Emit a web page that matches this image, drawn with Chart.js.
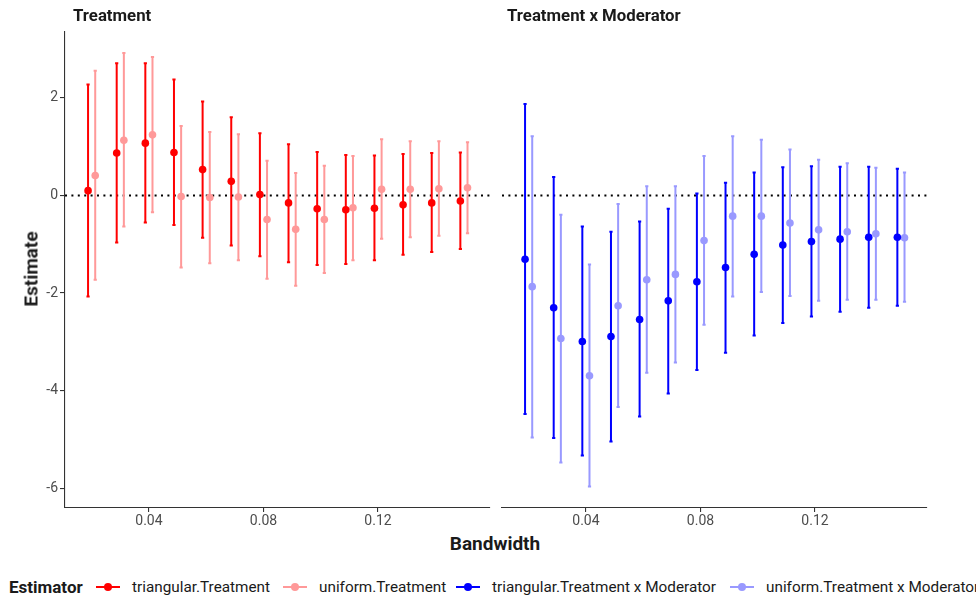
<!DOCTYPE html>
<html>
<head>
<meta charset="utf-8">
<script src="https://cdn.jsdelivr.net/npm/chart.js@4.4.1/dist/chart.umd.min.js"></script>
<style>
  html, body { margin: 0; padding: 0; background: #fff; }
  body { width: 976px; height: 600px; position: relative; overflow: hidden;
         font-family: Roboto, 'Liberation Sans', sans-serif; }
  canvas { position: absolute; top: 0; }
  .ttl { position: absolute; font-weight: bold; color: #1a1a1a; white-space: nowrap; line-height: 1; }
  .leg { position: absolute; top: 577px; height: 20px; line-height: 20px; font-size: 15.3px; color: #1a1a1a; white-space: nowrap; }
  .sw { position: absolute; top: 9px; width: 24px; height: 2px; }
  .sw i { position: absolute; left: 8px; top: -3.5px; width: 8px; height: 8px; border-radius: 50%; }
</style>
</head>
<body>
<canvas id="c1" width="495" height="530" style="left:0px"></canvas>
<canvas id="c2" width="481" height="530" style="left:495px"></canvas>
<div id="overlay"></div>
<script>
// ---- data ----
const bandwidths = [0.02, 0.03, 0.04, 0.05, 0.06, 0.07, 0.08, 0.09, 0.10, 0.11, 0.12, 0.13, 0.14, 0.15];
const panelTitles = ['Treatment', 'Treatment x Moderator'];
const seriesNames = ['triangular.Treatment', 'uniform.Treatment', 'triangular.Treatment x Moderator', 'uniform.Treatment x Moderator'];
const xTickValues = [0.04, 0.08, 0.12];
const yTickValues = [2, 0, -2, -4, -6];

const triTreatEst = [0.09, 0.86, 1.06, 0.87, 0.52, 0.28, 0.01, -0.16, -0.28, -0.30, -0.27, -0.20, -0.16, -0.12];
const triTreatLo  = [-2.07, -0.97, -0.56, -0.61, -0.87, -1.03, -1.25, -1.37, -1.43, -1.41, -1.33, -1.22, -1.16, -1.10];
const triTreatHi  = [2.26, 2.69, 2.69, 2.36, 1.91, 1.59, 1.26, 1.04, 0.88, 0.82, 0.81, 0.84, 0.86, 0.87];
const uniTreatEst = [0.40, 1.12, 1.23, -0.03, -0.05, -0.04, -0.50, -0.70, -0.50, -0.26, 0.12, 0.12, 0.13, 0.15];
const uniTreatLo  = [-1.73, -0.64, -0.35, -1.48, -1.39, -1.33, -1.71, -1.85, -1.59, -1.33, -0.89, -0.86, -0.83, -0.78];
const uniTreatHi  = [2.54, 2.90, 2.82, 1.41, 1.29, 1.24, 0.70, 0.45, 0.60, 0.80, 1.14, 1.10, 1.10, 1.08];
const triModEst = [-1.31, -2.30, -2.99, -2.89, -2.54, -2.16, -1.77, -1.48, -1.21, -1.02, -0.95, -0.90, -0.86, -0.86];
const triModLo  = [-4.47, -4.96, -5.32, -5.03, -4.52, -4.05, -3.57, -3.22, -2.87, -2.61, -2.48, -2.38, -2.30, -2.26];
const triModHi  = [1.86, 0.37, -0.64, -0.75, -0.54, -0.28, 0.03, 0.25, 0.46, 0.57, 0.59, 0.58, 0.58, 0.54];
const uniModEst = [-1.87, -2.93, -3.69, -2.26, -1.73, -1.62, -0.93, -0.43, -0.43, -0.57, -0.71, -0.75, -0.79, -0.87];
const uniModLo  = [-4.95, -5.46, -5.95, -4.33, -3.63, -3.42, -2.65, -2.07, -1.98, -2.06, -2.16, -2.14, -2.14, -2.18];
const uniModHi  = [1.20, -0.40, -1.42, -0.18, 0.18, 0.18, 0.80, 1.20, 1.13, 0.93, 0.72, 0.65, 0.56, 0.46];

const colors = ['#FF0000', '#FF9999', '#0000FF', '#9999FF'];
const dodge = 0.00125;
const X_MIN = 0.0107, X_MAX = 0.1591, Y_MIN = -6.39, Y_MAX = 3.33;
const FONT = "Roboto, 'Liberation Sans', sans-serif";

// ---- helpers ----
function makeDataset(label, est, lo, hi, color, offset) {
  return {
    label: label,
    data: bandwidths.map((b, i) => ({ x: b + offset, y: est[i] })),
    errLo: lo, errHi: hi,
    backgroundColor: color, borderColor: color,
    pointRadius: 3.8, pointHoverRadius: 3.8, pointBorderWidth: 0,
    showLine: false
  };
}

const errorBarPlugin = {
  id: 'errorBars',
  beforeDatasetsDraw(chart) {
    const ctx = chart.ctx, xs = chart.scales.x, ys = chart.scales.y, a = chart.chartArea;
    ctx.save();
    // zero reference line
    ctx.beginPath();
    ctx.setLineDash([2, 4.4]);
    ctx.lineWidth = 1.8;
    ctx.strokeStyle = '#000';
    const y0 = Math.round(ys.getPixelForValue(0)) + 0.5;
    ctx.moveTo(a.left, y0); ctx.lineTo(a.right, y0);
    ctx.stroke();
    ctx.setLineDash([]);
    chart.data.datasets.forEach((ds) => {
      ctx.strokeStyle = ds.borderColor;
      ctx.lineWidth = 2;
      ds.data.forEach((p, i) => {
        const x = xs.getPixelForValue(p.x);
        const yl = ys.getPixelForValue(ds.errLo[i]);
        const yh = ys.getPixelForValue(ds.errHi[i]);
        ctx.beginPath();
        ctx.moveTo(x, yl); ctx.lineTo(x, yh);
        ctx.moveTo(x - 1.6, yl); ctx.lineTo(x + 1.6, yl);
        ctx.moveTo(x - 1.6, yh); ctx.lineTo(x + 1.6, yh);
        ctx.stroke();
      });
    });
    ctx.restore();
  }
};

function axisOpts(showY) {
  return {
    x: {
      type: 'linear', min: X_MIN, max: X_MAX,
      afterBuildTicks: s => { s.ticks = xTickValues.map(v => ({ value: v })); },
      afterFit: s => { s.height = 22; },
      border: { display: true, color: '#333', width: 1.1 },
      grid: { display: true, drawOnChartArea: false, drawTicks: true, tickLength: 4, color: '#333', lineWidth: 1.1 },
      ticks: { color: '#4D4D4D', font: { family: FONT, size: 14 }, padding: 1, maxRotation: 0,
               callback: v => v.toFixed(2) }
    },
    y: {
      type: 'linear', min: Y_MIN, max: Y_MAX, display: showY,
      afterBuildTicks: s => { s.ticks = yTickValues.map(v => ({ value: v })); },
      afterFit: s => { s.width = showY ? 65 : 0; },
      border: { display: true, color: '#333', width: 1.1 },
      grid: { display: true, drawOnChartArea: false, drawTicks: true, tickLength: 5, color: '#333', lineWidth: 1.1 },
      ticks: { color: '#4D4D4D', font: { family: FONT, size: 14 }, padding: 2,
               callback: v => String(v) }
    }
  };
}

function makeChart(id, datasets, showY, padding) {
  return new Chart(document.getElementById(id), {
    type: 'scatter',
    data: { datasets: datasets },
    options: {
      responsive: false, animation: false, devicePixelRatio: 1,
      layout: { padding: padding },
      plugins: { legend: { display: false }, tooltip: { enabled: false } },
      scales: axisOpts(showY)
    },
    plugins: [errorBarPlugin]
  });
}

makeChart('c1', [
  makeDataset(seriesNames[0], triTreatEst, triTreatLo, triTreatHi, colors[0], -dodge),
  makeDataset(seriesNames[1], uniTreatEst, uniTreatLo, uniTreatHi, colors[1], dodge)
], true, { left: 0, top: 32, right: 5, bottom: 0 });

makeChart('c2', [
  makeDataset(seriesNames[2], triModEst, triModLo, triModHi, colors[2], -dodge),
  makeDataset(seriesNames[3], uniModEst, uniModLo, uniModHi, colors[3], dodge)
], false, { left: 7, top: 32, right: 49, bottom: 0 });

// ---- text overlay ----
const ov = document.getElementById('overlay');
function addDiv(cls, html, style) {
  const d = document.createElement('div');
  d.className = cls; d.innerHTML = html; d.setAttribute('style', style);
  ov.appendChild(d); return d;
}
addDiv('ttl', panelTitles[0], 'left:73px; top:7px; font-size:16.8px;');
addDiv('ttl', panelTitles[1], 'left:507px; top:7px; font-size:16.8px;');
addDiv('ttl', 'Bandwidth', 'left:495px; top:534px; font-size:19px; transform:translateX(-50%);');
addDiv('ttl', 'Estimate', 'left:31px; top:269px; font-size:19px; transform:translate(-50%,-50%) rotate(-90deg);');
addDiv('leg', '<b style="font-size:17px">Estimator</b>', 'left:9px;');
const legX = [96, 283, 456, 730];
seriesNames.forEach((n, i) => {
  addDiv('leg', '<span class="sw" style="left:0;background:' + colors[i] + '"><i style="background:' + colors[i] + '"></i></span><span style="margin-left:36px">' + n + '</span>', 'left:' + legX[i] + 'px;');
});
</script>
</body>
</html>
